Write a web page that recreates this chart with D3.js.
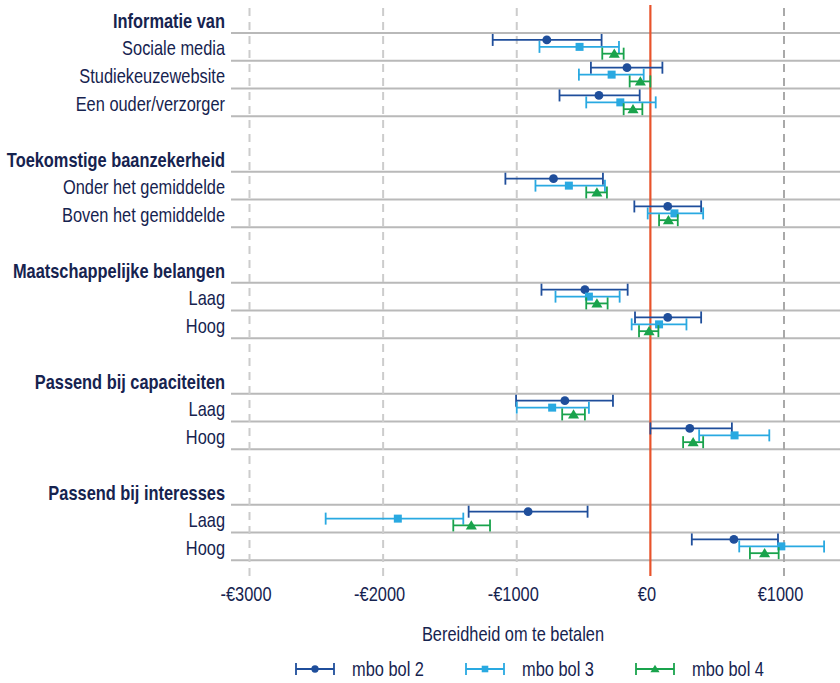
<!DOCTYPE html>
<html>
<head>
<meta charset="utf-8">
<script src="https://cdn.jsdelivr.net/npm/d3@7"></script>
<style>
  html, body { margin: 0; padding: 0; background: #ffffff; }
  svg { display: block; }
  text { font-family: 'Liberation Sans', Arial, sans-serif; fill: #16234f; }
</style>
</head>
<body>
<svg id="chart" width="840" height="683"></svg>
<script>
// Groups of attributes and their levels
const groupTitles = [
  "Informatie van",
  "Toekomstige baanzekerheid",
  "Maatschappelijke belangen",
  "Passend bij capaciteiten",
  "Passend bij interesses"
];
const groupItems = [
  ["Sociale media", "Studiekeuzewebsite", "Een ouder/verzorger"],
  ["Onder het gemiddelde", "Boven het gemiddelde"],
  ["Laag", "Hoog"],
  ["Laag", "Hoog"],
  ["Laag", "Hoog"]
];

// Series names
const seriesNames = ["mbo bol 2", "mbo bol 3", "mbo bol 4"];

// Estimates with lower and upper bound of the interval (euro), one value per level in order
const bol2Est = [-775, -175, -385, -725, 130, -490, 130, -640, 295, -915, 625];
const bol2Lo  = [-1180, -445, -680, -1085, -120, -815, -115, -1005, 0, -1360, 310];
const bol2Hi  = [-365, 90, -80, -355, 380, -170, 380, -280, 610, -470, 955];

const bol3Est = [-530, -290, -225, -610, 180, -460, 65, -735, 630, -1890, 980];
const bol3Lo  = [-830, -535, -480, -860, -20, -710, -140, -1000, 365, -2430, 665];
const bol3Hi  = [-235, -50, 40, -340, 395, -230, 270, -460, 890, -1400, 1300];

const bol4Est = [-270, -75, -130, -400, 135, -400, -10, -575, 320, -1340, 855];
const bol4Lo  = [-360, -155, -200, -480, 65, -480, -85, -660, 245, -1475, 745];
const bol4Hi  = [-200, 0, -60, -325, 205, -320, 60, -490, 395, -1200, 960];

// Axis ticks
const tickValues = [-3000, -2000, -1000, 0, 1000];
const axisTitle = "Bereidheid om te betalen";

// ---- layout ----
const plotLeft = 231, plotRight = 840;
const plotTop = 5.25, plotBottom = 560.25;
const labelX = 225;
const colors = ["#1f4e9b", "#29a9e1", "#19a34c"];
const zeroColor = "#e8532b";
const narrow = 0.82;   // horizontal compression for a condensed look
const fontSize = 20;

const svg = d3.select("#chart");

// Condensed text at (x, y)
function narrowText(parent, x, y, str, anchor, weight) {
  return parent.append("text")
    .attr("transform", `translate(${x},${y}) scale(${narrow},1)`)
    .attr("text-anchor", anchor || "start")
    .attr("font-size", fontSize)
    .attr("font-weight", weight || "normal")
    .text(str);
}

// Row list: header, levels, spacer between groups
const rows = [];
let itemIndex = 0;
groupTitles.forEach((title, g) => {
  rows.push({ key: "h" + g, label: title, type: "header" });
  groupItems[g].forEach(lab => {
    rows.push({ key: "i" + itemIndex, label: lab, type: "item", idx: itemIndex });
    itemIndex++;
  });
  if (g < groupTitles.length - 1) rows.push({ key: "s" + g, label: "", type: "spacer" });
});

const y = d3.scaleBand().domain(rows.map(r => r.key)).range([plotTop, plotBottom]).padding(0);
const bw = y.bandwidth();
const x = d3.scaleLinear().domain([-3000, 1000]).range([249.5, 784]);

// Series records
const series = [
  { name: seriesNames[0], est: bol2Est, lo: bol2Lo, hi: bol2Hi, color: colors[0], shape: "circle", off: 0.25 },
  { name: seriesNames[1], est: bol3Est, lo: bol3Lo, hi: bol3Hi, color: colors[1], shape: "square", off: 0.5 },
  { name: seriesNames[2], est: bol4Est, lo: bol4Lo, hi: bol4Hi, color: colors[2], shape: "triangle", off: 0.745 }
];

// Horizontal separator lines under each non-spacer row
svg.append("g")
  .selectAll("line")
  .data(rows.filter(r => r.type !== "spacer"))
  .join("line")
  .attr("x1", plotLeft).attr("x2", plotRight)
  .attr("y1", d => y(d.key) + bw).attr("y2", d => y(d.key) + bw)
  .attr("stroke", "#b9b9b9").attr("stroke-width", 2);

// Dashed vertical gridlines
svg.append("g")
  .selectAll("line")
  .data(tickValues.filter(v => v !== 0))
  .join("line")
  .attr("x1", d => x(d)).attr("x2", d => x(d))
  .attr("y1", 8).attr("y2", 576)
  .attr("stroke", d => d > 0 ? "#a9a9a9" : "#cccccc")
  .attr("stroke-width", 2)
  .attr("stroke-dasharray", "8,6");

// Zero line
svg.append("line")
  .attr("x1", x(0)).attr("x2", x(0))
  .attr("y1", 5).attr("y2", 576)
  .attr("stroke", zeroColor).attr("stroke-width", 2.2);

// Row labels
const labelG = svg.append("g");
rows.filter(r => r.type !== "spacer").forEach(r => {
  narrowText(labelG, labelX, y(r.key) + bw / 2 + (r.type === "header" ? 9 : 8.5),
    r.label, "end", r.type === "header" ? "bold" : "normal");
});

// Marker drawing helper
function drawMarker(sel, shape, color, size) {
  if (shape === "circle") {
    sel.append("circle").attr("r", size * 0.52).attr("fill", color);
  } else if (shape === "square") {
    sel.append("rect").attr("x", -size * 0.47).attr("y", -size * 0.47)
      .attr("width", size * 0.94).attr("height", size * 0.94).attr("fill", color);
  } else {
    const s = size * 0.62;
    sel.append("path").attr("d", `M0,${-s} L${s * 1.05},${s * 0.75} L${-s * 1.05},${s * 0.75} Z`).attr("fill", color);
  }
}

// Error bars
const items = rows.filter(r => r.type === "item");
series.forEach(s => {
  const g = svg.append("g");
  items.forEach(r => {
    const i = r.idx;
    const yy = y(r.key) + bw * s.off;
    const cap = 6;
    g.append("line")
      .attr("x1", x(s.lo[i])).attr("x2", x(s.hi[i]))
      .attr("y1", yy).attr("y2", yy)
      .attr("stroke", s.color).attr("stroke-width", 1.8);
    [s.lo[i], s.hi[i]].forEach(v => {
      g.append("line")
        .attr("x1", x(v)).attr("x2", x(v))
        .attr("y1", yy - cap).attr("y2", yy + cap)
        .attr("stroke", s.color).attr("stroke-width", 1.8);
    });
    const m = g.append("g").attr("transform", `translate(${x(s.est[i])},${yy})`);
    drawMarker(m, s.shape, s.color, 8.5);
  });
});

// X axis tick labels
const fmt = v => (v < 0 ? "-€" : "€") + Math.abs(v);
const axis = d3.axisBottom(x).tickValues(tickValues).tickFormat(fmt).tickSize(0).tickPadding(0);
const axG = svg.append("g").attr("transform", "translate(-4,587)").call(axis);
axG.select(".domain").remove();
axG.selectAll("text")
  .attr("font-size", fontSize)
  .attr("font-family", "'Liberation Sans', Arial, sans-serif")
  .attr("fill", "#16234f")
  .attr("transform", `scale(${narrow},1)`)
  .attr("dy", "0.72em");

// Axis title
narrowText(svg, 513, 641, axisTitle, "middle");

// Legend
const legendX0 = 296, legendStep = 170, legendY = 669;
series.forEach((s, k) => {
  const lg = svg.append("g").attr("transform", `translate(${legendX0 + k * legendStep},${legendY})`);
  lg.append("line").attr("x1", 0).attr("x2", 38).attr("y1", 0).attr("y2", 0)
    .attr("stroke", s.color).attr("stroke-width", 1.8);
  [0, 38].forEach(xx => lg.append("line").attr("x1", xx).attr("x2", xx).attr("y1", -6).attr("y2", 6)
    .attr("stroke", s.color).attr("stroke-width", 1.8));
  const m = lg.append("g").attr("transform", "translate(19,0)");
  drawMarker(m, s.shape, s.color, 7);
  narrowText(lg, 56, 7, s.name, "start");
});
</script>
</body>
</html>
